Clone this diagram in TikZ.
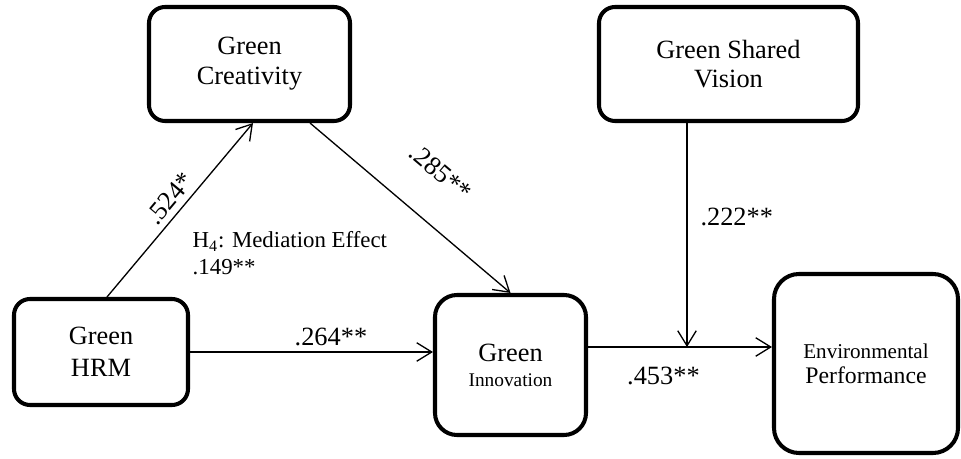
\documentclass[tikz,border=0pt]{standalone}
\usepackage{fontspec}
\setmainfont{Liberation Serif}
\usetikzlibrary{arrows.meta}

\begin{document}
\begin{tikzpicture}[
    box/.style={draw, line width=2.3pt, rounded corners=0.32cm, align=center,
      inner sep=0pt, font=\fontsize{15}{17}\selectfont},
    link/.style={line width=0.75pt, -{Straight Barb[length=3mm,width=3.7mm]}},
    lbl/.style={font=\fontsize{15}{17}\selectfont}
  ]
  \useasboundingbox (0,0) rectangle (19.22,9.18);

  % Drawing box Green Creativity
  \node [box, minimum width=4.02cm, minimum height=2.28cm] (gc) at (4.99,7.90) {Green\\Creativity};%

  % Drawing box Green Shared Vision
  \node [box, minimum width=5.18cm, minimum height=2.28cm] (gsv) at (14.57,7.90) {Green Shared\\Vision};%

  % Drawing box Green HRM
  \node [box, minimum width=3.48cm, minimum height=2.12cm, font=\fontsize{15}{18}\selectfont] (hrm) at (2.02,2.14) {Green\\HRM};%

  % Drawing box Green Innovation
  \node [box, minimum width=3.02cm, minimum height=2.80cm, rounded corners=0.44cm,
    font=\fontsize{15}{14.2}\selectfont] (gi) at (10.21,1.88) {Green\\{\fontsize{11}{14.2}\selectfont Innovation}};%

  % Drawing box Environmental Performance
  \node [box, minimum width=3.68cm, minimum height=3.58cm, rounded corners=0.5cm,
    font=\fontsize{13.5}{14.2}\selectfont] (ep) at (17.32,1.91) {{\fontsize{12}{14.2}\selectfont Environmental}\\Performance};%

  % Drawing arrow HRM -> Creativity
  \draw [link] ([xshift=0.12cm]hrm.north) -- ([xshift=0.07cm]gc.south)
    node [lbl, pos=0.51, sloped, above] {.524*};%

  % Drawing arrow Creativity -> Innovation
  \draw [link] ([xshift=1.21cm]gc.south) -- (gi.north)
    node [lbl, pos=0.5, sloped, above=6.3mm] {.285**};%

  % Drawing arrow HRM -> Innovation
  \draw [link] (hrm.east) -- (hrm.east -| gi.west)
    node [lbl, pos=0.58, above] {.264**};%

  % Drawing arrow Innovation -> Performance
  \coordinate (gout) at ([yshift=0.36cm]gi.east);
  \draw [link] (gout) -- (gout -| ep.west)
    node [lbl, pos=0.41, below=2.8mm] {.453**};%

  % Drawing arrow Shared Vision -> moderated path
  \coordinate (vtop) at ([xshift=-0.83cm]gsv.south);
  \draw [link] (vtop) -- (vtop |- gout)
    node [lbl, pos=0.42, right=1.4mm] {.222**};%

  % Marking mediation effect
  \node [lbl, font=\fontsize{13}{15.4}\selectfont, align=left, anchor=west] (med) at (3.73,4.11)
    {H\textsubscript{4}: Mediation Effect\\.149**};%
\end{tikzpicture}
\end{document}
